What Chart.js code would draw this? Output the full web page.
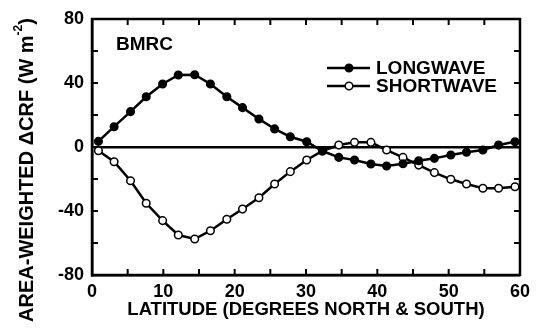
<!DOCTYPE html>
<html>
<head>
<meta charset="utf-8">
<script src="https://cdn.jsdelivr.net/npm/chart.js@4"></script>
<style>
  html, body { margin: 0; padding: 0; background: #fff; }
  canvas { display: block; }
</style>
</head>
<body>
<canvas id="crf" width="536" height="331"></canvas>
<script>
// latitude of each band (degrees, north & south combined)
const latitudes = [0.9, 3.1, 5.4, 7.6, 9.9, 12.1, 14.4, 16.6, 18.9, 21.1, 23.4, 25.6, 27.8, 30.1,
  32.3, 34.6, 36.8, 39.1, 41.3, 43.6, 45.8, 48.0, 50.3, 52.5, 54.8, 57.0, 59.3];

// area-weighted delta CRF (W m-2)
const longwave = [3.5, 12.7, 22.1, 31.4, 39.4, 45.0, 45.2, 39.4, 31.4, 24.6, 17.5, 11.3, 6.4, 3.3,
  -2.5, -6.5, -8.1, -10.6, -11.9, -10.5, -8.6, -7.1, -5.0, -3.3, -1.9, 1.2, 3.3];
const shortwave = [-2.3, -9.2, -21.1, -35.2, -46.0, -55.0, -57.5, -52.3, -45.2, -38.8, -31.7, -23.1, -15.4, -8.1,
  -2.5, 1.2, 2.9, 2.9, -1.9, -6.5, -11.3, -16.0, -20.2, -23.1, -25.8, -25.8, -24.8];

const seriesNames = ["LONGWAVE", "SHORTWAVE"];
const xTicks = [0, 10, 20, 30, 40, 50, 60];
const yTicks = [-80, -40, 0, 40, 80];

const FONT = "'Liberation Sans', Arial, Helvetica, sans-serif";

function pts(ys) {
  return latitudes.map((x, i) => ({ x: x, y: ys[i] }));
}

// frame on all four sides + inward ticks, legend, label
const decor = {
  id: "decor",
  afterDatasetsDraw(chart) {
    const { ctx, chartArea: a, scales } = chart;
    const xs = scales.x, ys = scales.y;
    ctx.save();
    ctx.strokeStyle = "#000";
    ctx.lineWidth = 2.5;
    ctx.strokeRect(a.left, a.top, a.right - a.left, a.bottom - a.top);

    ctx.lineWidth = 2;
    const len = 6;
    ctx.beginPath();
    for (let v = 5; v < 60; v += 5) {
      const px = xs.getPixelForValue(v);
      ctx.moveTo(px, a.bottom); ctx.lineTo(px, a.bottom - len);
      ctx.moveTo(px, a.top); ctx.lineTo(px, a.top + len);
    }
    for (let v = -60; v < 80; v += 20) {
      const py = ys.getPixelForValue(v);
      ctx.moveTo(a.left, py); ctx.lineTo(a.left + len, py);
      ctx.moveTo(a.right, py); ctx.lineTo(a.right - len, py);
    }
    ctx.stroke();

    // BMRC tag
    ctx.fillStyle = "#000";
    ctx.font = "bold 19px " + FONT;
    ctx.textBaseline = "middle";
    ctx.textAlign = "left";
    ctx.fillText("BMRC", a.left + 24, a.top + 26);

    // legend
    const lx0 = a.left + 235, lx1 = a.left + 278, lmid = a.left + 257;
    chart.data.datasets.forEach((ds, i) => {
      const ly = a.top + 49 + i * 18;
      ctx.lineWidth = 2.5;
      ctx.strokeStyle = "#000";
      ctx.beginPath();
      ctx.moveTo(lx0, ly); ctx.lineTo(lx1, ly);
      ctx.stroke();
      ctx.beginPath();
      ctx.arc(lmid, ly, 3.8, 0, Math.PI * 2);
      ctx.fillStyle = ds.pointBackgroundColor;
      ctx.fill();
      ctx.lineWidth = 1.5;
      ctx.stroke();
      ctx.fillStyle = "#000";
      ctx.font = "bold 19px " + FONT;
      ctx.fillText(ds.label, a.left + 284, ly + 1);
    });

    // y axis title with superscript
    ctx.translate(27, 170);
    ctx.rotate(-Math.PI / 2);
    ctx.font = "bold 20px " + FONT;
    const t1 = "AREA-WEIGHTED ΔCRF (W m";
    const w1 = ctx.measureText(t1).width;
    ctx.font = "bold 12px " + FONT;
    const w2 = ctx.measureText("-2").width;
    ctx.font = "bold 20px " + FONT;
    const w3 = ctx.measureText(")").width;
    let x = -(w1 + w2 + w3) / 2;
    ctx.fillText(t1, x, 0);
    x += w1;
    ctx.font = "bold 12px " + FONT;
    ctx.fillText("-2", x, -8);
    x += w2;
    ctx.font = "bold 20px " + FONT;
    ctx.fillText(")", x, 0);
    ctx.restore();
  }
};

new Chart(document.getElementById("crf"), {
  type: "line",
  data: {
    datasets: [
      {
        label: seriesNames[0],
        data: pts(longwave),
        borderColor: "#000",
        borderWidth: 2.5,
        pointRadius: 3.8,
        pointBackgroundColor: "#000",
        pointBorderColor: "#000",
        pointBorderWidth: 1.5,
        tension: 0,
        clip: false
      },
      {
        label: seriesNames[1],
        data: pts(shortwave),
        borderColor: "#000",
        borderWidth: 2.5,
        pointRadius: 3.8,
        pointBackgroundColor: "#fff",
        pointBorderColor: "#000",
        pointBorderWidth: 1.5,
        tension: 0,
        clip: false
      }
    ]
  },
  options: {
    responsive: false,
    animation: false,
    devicePixelRatio: 1,
    layout: { padding: { left: 0, top: 19, right: 9, bottom: 0 } },
    plugins: { legend: { display: false }, tooltip: { enabled: false } },
    scales: {
      x: {
        type: "linear",
        min: 0, max: 60,
        afterFit: s => { s.height = 56; },
        afterBuildTicks: s => { s.ticks = xTicks.map(v => ({ value: v })); },
        ticks: { color: "#000", font: { family: FONT, size: 18, weight: "bold" }, padding: 6, maxRotation: 0 },
        grid: { display: false, drawTicks: false },
        border: { display: true, color: "#000", width: 2.5 },
        title: {
          display: true,
          text: "LATITUDE (DEGREES NORTH & SOUTH)",
          color: "#000",
          font: { family: FONT, size: 18.5, weight: "bold" },
          padding: { top: 0, bottom: 10 }
        }
      },
      y: {
        min: -80, max: 80,
        afterFit: s => { s.width = 92; },
        afterBuildTicks: s => { s.ticks = yTicks.map(v => ({ value: v })); },
        ticks: { color: "#000", font: { family: FONT, size: 18, weight: "bold" }, padding: 8 },
        grid: {
          drawTicks: false,
          color: c => (c.tick && c.tick.value === 0 ? "#000" : "rgba(0,0,0,0)"),
          lineWidth: 2.5
        },
        border: { display: true, color: "#000", width: 2.5 }
      }
    }
  },
  plugins: [decor]
});
</script>
</body>
</html>
